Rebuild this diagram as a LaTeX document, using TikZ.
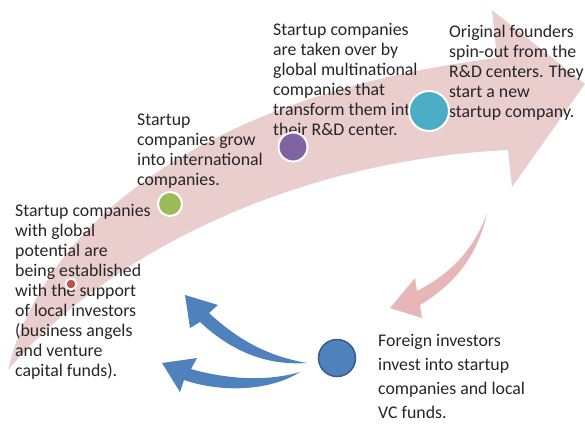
\documentclass[tikz,border=0pt]{standalone}
\usepackage{fontspec}
\setmainfont{Carlito}
\usetikzlibrary{positioning}

\definecolor{bandpink}{RGB}{234,205,205}
\definecolor{arrowpink}{RGB}{231,183,183}
\definecolor{officeblue}{RGB}{79,129,189}
\definecolor{darkblue}{RGB}{56,93,138}
\definecolor{dotred}{RGB}{192,80,77}
\definecolor{dotgreen}{RGB}{155,187,89}
\definecolor{dotpurple}{RGB}{128,100,162}
\definecolor{dotteal}{RGB}{75,172,198}
\definecolor{txtgray}{RGB}{38,38,38}

\begin{document}
\begin{tikzpicture}[
x=1pt,
y=-1pt,
label/.style={
  anchor=north west,
  inner sep=0pt,
  align=left,
  text=txtgray,
  font=\fontsize{17.8}{20}\selectfont
  },
dot/.style={
  circle,
  draw=white,
  line width=2pt,
  inner sep=0pt
  }
]
\useasboundingbox (0,0) rectangle (585,423);

% big curved arrow
\fill[bandpink] (8,370) .. controls (45,215) and (220,92) .. (497,58)
  -- (492,10) -- (585,84) -- (512,187) -- (508,150)
  .. controls (300,160) and (110,250) .. (8,370) -- cycle;

% small pink arrow
\fill[arrowpink] (487,213) .. controls (478,255) and (455,284) .. (420,305)
  -- (422,318) -- (390,308) -- (415,278) -- (417,291)
  .. controls (450,274) and (474,250) .. (487,213) -- cycle;

% blue arrows
\fill[officeblue] (307,363) .. controls (262,366) and (228,348) .. (200,322)
  -- (190,328) -- (185,295) -- (218,305) -- (209,313)
  .. controls (236,338) and (266,356) .. (307,363) -- cycle;
\fill[officeblue] (300,372) .. controls (270,391) and (222,393) .. (184,380)
  -- (180,392) -- (162,363) -- (197,358) -- (191,369)
  .. controls (226,379) and (266,382) .. (300,372) -- cycle;

% texts
\node[label] (local) at (15,204)
  {Startup companies\\with global\\potential are\\being established\\with the support\\of local investors\\(business angels\\and venture\\capital funds).};
\node[label] (grow) at (137,114)
  {Startup\\companies grow\\into international\\companies.};
\node[label] (takeover) at (273,23)
  {Startup companies\\are taken over by\\global multinational\\companies that\\transform them into\\their R\&D center.};
\node[label] (spinout) at (449,25)
  {Original founders\\spin-out from the\\R\&D centers. They\\start a new\\startup company.};
\node[label, font=\fontsize{17.8}{24}\selectfont] (foreign) at (378,334)
  {Foreign investors\\invest into startup\\companies and local\\VC funds.};

% dots
\node[dot, fill=dotred, minimum size=11pt] (red) at (71,284) {};
\node[dot, fill=dotgreen, minimum size=24pt] (green) at (170,204) {};
\node[dot, fill=dotpurple, minimum size=29pt] (purple) at (293,147) {};
\node[dot, fill=dotteal, minimum size=40pt] (teal) at (429,111) {};
\node[circle, draw=darkblue, line width=1.5pt, fill=officeblue,
  inner sep=0pt, minimum size=37pt] (blue) at (337,358) {};
\end{tikzpicture}
\end{document}
